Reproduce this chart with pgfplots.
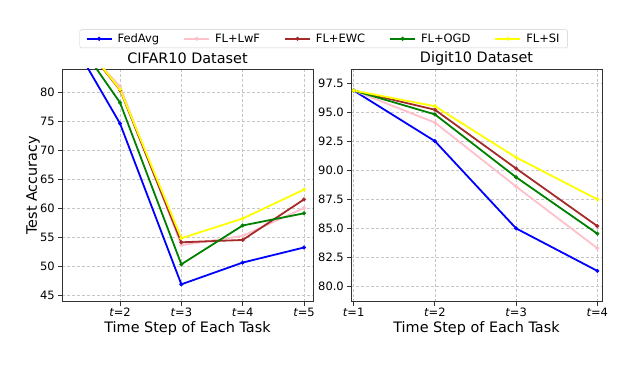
\documentclass[border=0pt]{standalone}
\usepackage{pgfplots}
\pgfplotsset{compat=1.18}
\usepackage{fontspec}
\setmainfont{DejaVu Sans}

\definecolor{cfedavg}{RGB}{0,0,255}
\definecolor{clwf}{RGB}{255,192,203}
\definecolor{cewc}{RGB}{165,42,42}
\definecolor{cogd}{RGB}{0,128,0}
\definecolor{csi}{RGB}{255,255,0}

\pgfplotsset{
  panel/.style={
    scale only axis, width=251pt, height=232.7pt,
    axis line style={black!80, line width=0.9pt},
    grid=major,
    major grid style={gray!45, line width=0.6pt, dash pattern=on 3pt off 2pt},
    tick pos=left, tick align=outside, major tick length=4pt,
    tick style={black!80, line width=0.8pt},
    tick label style={font=\fontsize{11.5}{13}\selectfont},
    /pgf/number format/assume math mode=true,
    xticklabel style={anchor=base, yshift=-10.8pt, inner sep=0pt},
    yticklabel style={anchor=east, inner sep=0pt, xshift=-3pt},
    label style={font=\fontsize{14.4}{16}\selectfont},
    title style={font=\fontsize{14.4}{16}\selectfont, at={(axis description cs:0.5,1)}, anchor=base},
    xlabel style={at={(axis description cs:0.5,-0.133)}, anchor=base},
    every axis plot/.append style={line width=1.8pt, mark=*, mark size=1.8pt,
        mark options={line width=0.5pt}},
    legend image code/.code={\draw[mark repeat=2, mark phase=2, #1] plot coordinates {(0pt,0pt) (12.5pt,0pt) (25pt,0pt)};},
  },
}

\begin{document}
\begin{tikzpicture}
\path[use as bounding box] (0pt,0pt) rectangle (640pt,370pt);

% CIFAR10
\begin{axis}[
    panel,
    at={(62pt,68.3pt)}, anchor=south west,
    title={CIFAR10 Dataset},
    xlabel={Time Step of Each Task},
    ylabel={Test Accuracy},
    ylabel style={at={(axis description cs:-0.1,0.5)}, anchor=base, rotate=0},
    xmin=1.054, xmax=5.147,
    ymin=43.85, ymax=84.0,
    xtick={2,3,4,5},
    xticklabels={{\itshape t}=2, {\itshape t}=3, {\itshape t}=4, {\itshape t}=5},
    ytick={45,50,55,60,65,70,75,80},
    legend columns=5,
    legend style={at={(1.0426,1.13)}, anchor=center,
        font=\fontsize{11.5}{13}\selectfont,
        draw=black!20, rounded corners=2pt, fill=white,
        inner xsep=6pt, inner ysep=2pt,
        /tikz/every odd column/.append style={column sep=3pt},
        /tikz/every even column/.append style={column sep=22pt}},
]
\addplot[color=cfedavg] coordinates {(1,92.8) (2,74.6) (3,46.85) (4,50.6) (5,53.2)};
\addlegendentry{FedAvg}
\addplot[color=clwf] coordinates {(1,92.5) (2,81.0) (3,53.6) (4,55.2) (5,60.0)};
\addlegendentry{FL+LwF}
\addplot[color=cewc] coordinates {(1,93.5) (2,80.4) (3,54.1) (4,54.5) (5,61.5)};
\addlegendentry{FL+EWC}
\addplot[color=cogd] coordinates {(1,93.4) (2,78.2) (3,50.3) (4,57.0) (5,59.1)};
\addlegendentry{FL+OGD}
\addplot[color=csi] coordinates {(1,93.6) (2,80.5) (3,54.8) (4,58.2) (5,63.2)};
\addlegendentry{FL+SI}
\end{axis}

% Digit10
\begin{axis}[
    panel,
    at={(351pt,68.3pt)}, anchor=south west,
    title={Digit10 Dataset},
    xlabel={Time Step of Each Task},
    xmin=0.967, xmax=4.058,
    ymin=78.7, ymax=98.7,
    xtick={1,2,3,4},
    xticklabels={{\itshape t}=1, {\itshape t}=2, {\itshape t}=3, {\itshape t}=4},
    ytick={80,82.5,85,87.5,90,92.5,95,97.5},
    yticklabel style={/pgf/number format/.cd, fixed, fixed zerofill, precision=1},
]
\addplot[color=cfedavg] coordinates {(1,96.85) (2,92.5) (3,85.0) (4,81.35)};
\addplot[color=clwf] coordinates {(1,96.85) (2,94.1) (3,88.6) (4,83.3)};
\addplot[color=cewc] coordinates {(1,96.85) (2,95.2) (3,90.15) (4,85.2)};
\addplot[color=cogd] coordinates {(1,96.85) (2,94.8) (3,89.4) (4,84.55)};
\addplot[color=csi] coordinates {(1,96.85) (2,95.5) (3,91.1) (4,87.5)};
\end{axis}
\end{tikzpicture}
\end{document}
